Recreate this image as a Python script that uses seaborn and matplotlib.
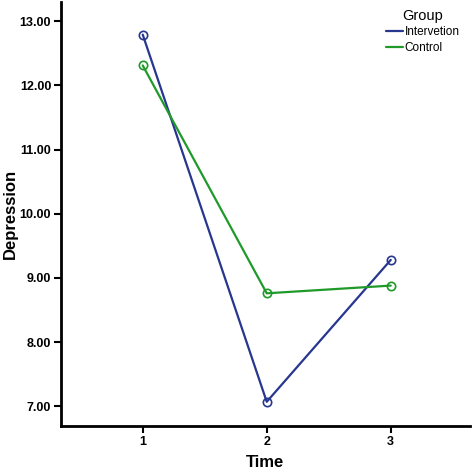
import matplotlib
matplotlib.use("Agg")
import matplotlib.pyplot as plt
import seaborn as sns
import pandas as pd

time = [1, 2, 3]
intervention = [12.79, 7.07, 9.28]
control = [12.31, 8.76, 8.88]
groups = ["Intervetion", "Control"]
yticks = [7, 8, 9, 10, 11, 12, 13]

df = pd.DataFrame({
    "Time": time * 2,
    "Depression": intervention + control,
    "Group": [groups[0]] * 3 + [groups[1]] * 3,
})

sns.set_theme(style="white")
plt.rcParams["font.family"] = ["Liberation Sans", "DejaVu Sans"]
plt.rcParams.update({"text.color": "black", "axes.labelcolor": "black",
                     "xtick.color": "black", "ytick.color": "black"})

fig = plt.figure(figsize=(4.72, 4.73), dpi=100)
ax = fig.add_axes([0.129, 0.099, 0.867, 0.897])
palette = {groups[0]: "#27368f", groups[1]: "#1f9a2a"}
sns.lineplot(data=df, x="Time", y="Depression", hue="Group", palette=palette,
             marker="o", markersize=6, markerfacecolor="none", markeredgewidth=1.2,
             linewidth=1.6, ax=ax)
for line, g in zip(ax.lines, groups):
    line.set_markeredgecolor(palette[g])

ax.set_xlim(0.34, 3.64)
ax.set_ylim(6.69, 13.30)
ax.set_xticks(time)
ax.set_xticklabels([str(t) for t in time], fontsize=9, fontweight="bold")
ax.set_yticks(yticks)
ax.set_yticklabels([f"{v:.2f}" for v in yticks], fontsize=9, fontweight="bold")
ax.set_xlabel("Time", fontsize=12, fontweight="bold", labelpad=5)
ax.set_ylabel("Depression", fontsize=12, fontweight="bold", labelpad=1)
for s in ["top", "right"]:
    ax.spines[s].set_visible(False)
for s in ["left", "bottom"]:
    ax.spines[s].set_color("black")
    ax.spines[s].set_linewidth(2)
ax.tick_params(axis="both", which="major", length=5, width=1.5, color="black",
               bottom=True, left=True, pad=2)

leg = ax.legend(title="Group", loc="upper right", bbox_to_anchor=(1.0, 1.008),
                frameon=False, fontsize=8.5, title_fontsize=10.5,
                handlelength=1.5, handletextpad=0.1, labelspacing=0.28)
for h in leg.get_lines():
    h.set_marker("")
leg._legend_box.align = "center"

fig.savefig("out.png", dpi=100)
